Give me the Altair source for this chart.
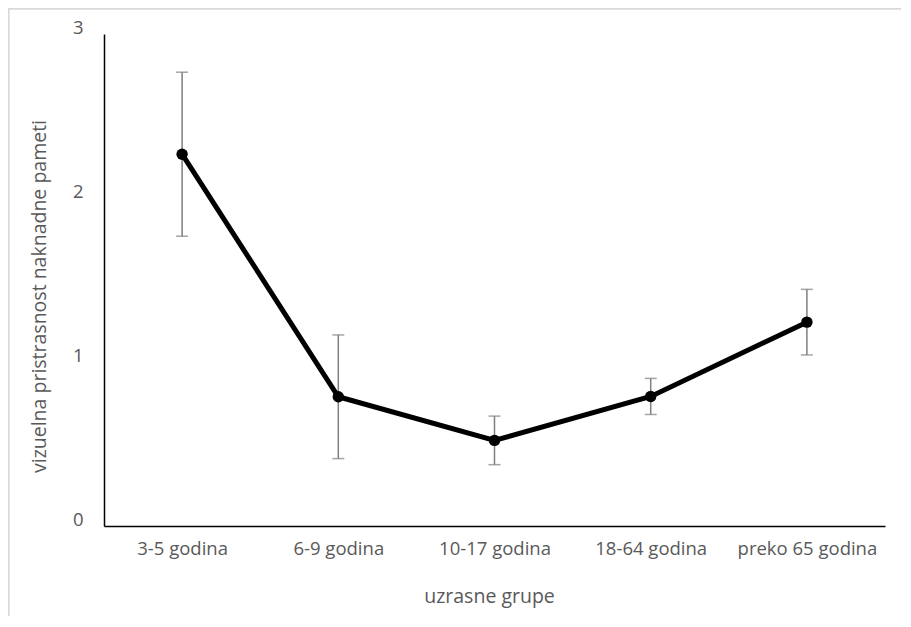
import altair as alt
import pandas as pd

categories = ["3-5 godina", "6-9 godina", "10-17 godina", "18-64 godina", "preko 65 godina"]
means = [2.267, 0.788, 0.522, 0.79, 1.243]
errors = [0.50, 0.377, 0.148, 0.11, 0.20]
y_ticks = [0, 1, 2, 3]

df = pd.DataFrame({
    "grupa": categories,
    "m": means,
    "lo": [m - e for m, e in zip(means, errors)],
    "hi": [m + e for m, e in zip(means, errors)],
})

W, H = 781, 492
FONT = "Open Sans"
GRAY = "#595959"

x = alt.X("grupa:N", sort=categories, scale=alt.Scale(type="point", padding=0.5),
          axis=alt.Axis(title="uzrasne grupe", labelAngle=0, ticks=False, tickSize=0,
                        labelPadding=22, labelBaseline="middle", domainColor="black",
                        domainWidth=1.5, titleX=385, titleY=70, titleBaseline="middle"))
y = alt.Y("m:Q", scale=alt.Scale(domain=[0, 3], nice=False, zero=True),
          axis=alt.Axis(title="vizuelna pristrasnost naknadne pameti", values=y_ticks,
                        format="d", grid=False, ticks=False, tickSize=0, labelPadding=21,
                        labelOffset=-7, domainColor="black", domainWidth=1.5,
                        titleX=-65, titleY=262, titleBaseline="middle"))

base = alt.Chart(df)

border = base.mark_rect(fill=None, stroke="#d9d9d9", strokeWidth=1.5).encode(
    x=alt.value(-95.5), x2=alt.value(W + 200), y=alt.value(-25.5), y2=alt.value(H + 300)
)

rules = base.mark_rule(color="#7f7f7f", strokeWidth=1.5).encode(
    x=x, y=alt.Y("lo:Q"), y2="hi:Q"
)
cap_lo = base.mark_tick(color="#7f7f7f", thickness=1.5, size=12).encode(x=x, y=alt.Y("lo:Q"))
cap_hi = base.mark_tick(color="#7f7f7f", thickness=1.5, size=12).encode(x=x, y=alt.Y("hi:Q"))
line = base.mark_line(color="black", strokeWidth=5).encode(x=x, y=y)
pts = base.mark_point(filled=True, color="black", size=130, opacity=1).encode(x=x, y=y)

chart = alt.layer(border, rules, cap_lo, cap_hi, line, pts).properties(
    width=W, height=H,
    padding={"left": 96, "top": 26, "right": 16, "bottom": 90},
    autosize="none",
).configure_view(stroke=None).configure_axis(
    labelFont=FONT, titleFont=FONT, labelFontSize=18.5, titleFontSize=19.5,
    labelColor=GRAY, titleColor=GRAY, titleFontWeight="normal",
)

chart.save("out.html", embed_options={"renderer": "svg", "actions": False})
